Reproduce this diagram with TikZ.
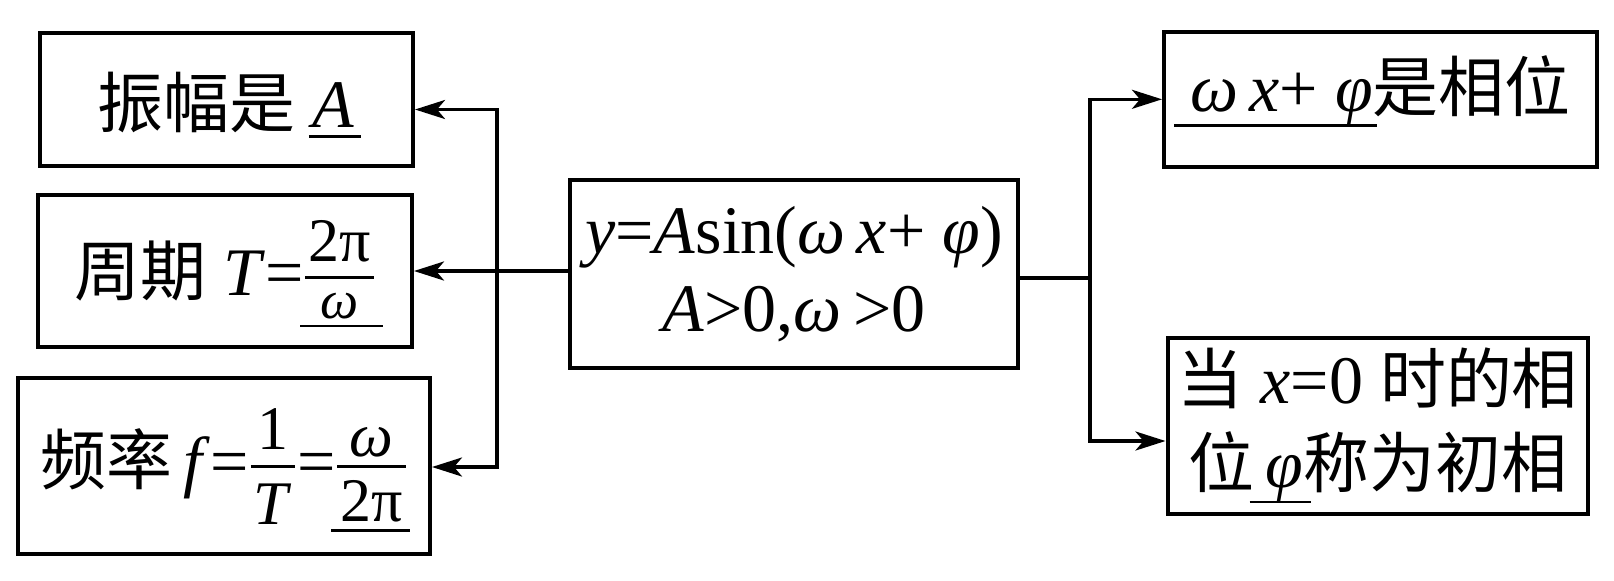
\documentclass[tikz,border=0pt]{standalone}
\usepackage{fontspec}
\setmainfont{Liberation Serif}
\newfontfamily\cjk[Scale=0.97]{Noto Sans CJK SC}
\usetikzlibrary{arrows.meta}
% underline: #1 depth, #2 left overhang, #3 right overhang, #4 text
\newcommand\ulx[4]{\setbox0\hbox{#4}\hbox{\kern-#2\rlap{\rule[-#1]{\dimexpr\wd0+#2+#3\relax}{1.2pt}}\kern#2\box0}}
% fraction bar height above baseline
\newlength\fbar \setlength\fbar{9pt}
% fraction: #1 num baseline above bar, #2 den baseline below bar, #3 num, #4 den
\newcommand\mfr[4]{\begingroup\fontsize{31pt}{31pt}\selectfont
  \setbox2\hbox{#3}\setbox4\hbox{#4}%
  \dimen0=\ifdim\wd2>\wd4 \wd2\else\wd4\fi \advance\dimen0 by 3pt
  \kern1pt\rlap{\raise\dimexpr\fbar-0.7pt\relax\hbox{\rule{\dimen0}{1.4pt}}}%
  \rlap{\raise\dimexpr\fbar+#1\relax\hbox to\dimen0{\hss\box2\hss}}%
  \lower\dimexpr#2-\fbar\relax\hbox to\dimen0{\hss\box4\hss}\kern1pt\endgroup}
\tikzset{
  box/.style={draw, line width=2pt, inner sep=0pt, align=center,
    font=\fontsize{34pt}{42pt}\selectfont},
  conn/.style={line width=1.7pt, line join=miter},
  myarr/.tip={Stealth[length=15pt,width=9.5pt,inset=4pt]}
}
\begin{document}
\begin{tikzpicture}[x=0.5pt,y=-0.5pt]
\useasboundingbox (0,0) rectangle (1614,580);
% left boxes
\node[box, minimum width=186.7pt, text height=47.5pt, text depth=19.05pt] (b1) at (226.3,99.2)
  {{\cjk 振幅是} \ulx{5pt}{2pt}{3pt}{\textit{A}}};
\node[box, minimum width=187pt, text height=50.15pt, text depth=25.7pt] (b2) at (225,271)
  {{\cjk 周期} \textit{T}=\mfr{7.8pt}{20.5pt}{2π}{\ulx{4.5pt}{10pt}{12pt}{\fontsize{27pt}{27pt}\selectfont\textit{ω}}}};
\node[box, minimum width=205.9pt, text height=53pt, text depth=34.9pt] (b3) at (224.1,466)
  {{\cjk 频率}\,\textit{f}=\mfr{8.35pt}{29pt}{1}{\textit{T}}=\mfr{5pt}{27.85pt}{\textit{ω}}{\ulx{5pt}{4.5pt}{3.5pt}{2π}}};
% center box
\node[box, minimum width=224pt, minimum height=94.25pt] (c) at (794,273.75)
  {\textit{y}=\textit{A}sin(\textit{ω}\,\textit{x}+ \textit{φ})\\[-3pt]
   \textit{A}>0,\textit{ω}\,>0};
% right boxes
\node[box, minimum width=216.5pt, text height=39.5pt, text depth=27.85pt] (r1) at (1380.5,99.5)
  {\ulx{7.7pt}{8pt}{2pt}{\textit{ω}\,\textit{x}+ \textit{φ}}{\cjk 是相位}};
\node[box, minimum width=210.25pt, minimum height=88pt] (r2) at (1377.75,425.5)
  {{\cjk 当} \textit{x}=0 {\cjk 时的相}\\
   {\cjk 位}\,\ulx{8pt}{8pt}{4pt}{\textit{φ}}{\cjk 称为初相}};
% left connectors
\coordinate (jL1) at (497,109.5);
\coordinate (jL3) at (497,467);
\draw[conn, {myarr}-{myarr}] (jL1 -| b1.east) -- (jL1) -- (jL3) -- (jL3 -| b3.east);
\draw[conn, -{myarr}] (c.west |- b2.east) -- (b2.east);
% right connectors
\coordinate (jR) at (1090,278);
\coordinate (jR1) at (1090,99.3);
\coordinate (jR2) at (1090,441);
\draw[conn] (c.east |- jR) -- (jR);
\draw[conn, {myarr}-{myarr}] (jR1 -| r1.west) -- (jR1) -- (jR2) -- (jR2 -| r2.west);
\end{tikzpicture}
\end{document}
